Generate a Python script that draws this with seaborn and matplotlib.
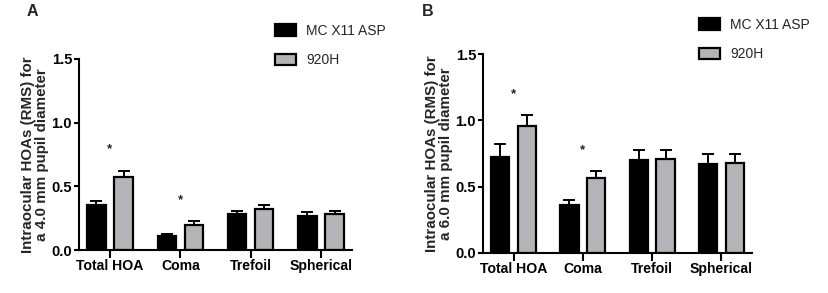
import matplotlib
matplotlib.use("Agg")
import matplotlib.pyplot as plt
import seaborn as sns
import pandas as pd
from matplotlib.patches import Patch

sns.set_theme(style="ticks")
plt.rcParams["font.family"] = ["Liberation Sans", "DejaVu Sans"]

categories = ["Total HOA", "Coma", "Trefoil", "Spherical"]
groups = ["MC X11 ASP", "920H"]

# Panel A: 4.0 mm pupil
a_mc = [0.35, 0.11, 0.28, 0.27]
a_mc_err = [0.035, 0.015, 0.03, 0.03]
a_920 = [0.575, 0.20, 0.32, 0.28]
a_920_err = [0.045, 0.025, 0.03, 0.025]
a_sig = [True, True, False, False]

# Panel B: 6.0 mm pupil
b_mc = [0.72, 0.36, 0.70, 0.67]
b_mc_err = [0.10, 0.04, 0.075, 0.075]
b_920 = [0.96, 0.565, 0.71, 0.68]
b_920_err = [0.08, 0.05, 0.065, 0.065]
b_sig = [True, True, False, False]

yticks = [0.0, 0.5, 1.0, 1.5]

BLACK = "#000000"
GREY = "#b4b4b8"

fig = plt.figure(figsize=(8.29, 2.93), dpi=100)
W, H = 829, 293


def px_axes(l, r, t, b):
    return fig.add_axes([l / W, 1 - b / H, (r - l) / W, (b - t) / H])


def panel(ax, mc, mc_err, g920, g920_err, sig, ylabel, letter, letter_xy, leg_xy, star_off):
    df = pd.DataFrame({
        "category": categories * 2,
        "group": [groups[0]] * 4 + [groups[1]] * 4,
        "value": list(mc) + list(g920),
    })
    sns.barplot(data=df, x="category", y="value", hue="group", order=categories,
                hue_order=groups, palette=[BLACK, GREY], width=0.77, gap=0.32,
                edgecolor="black", linewidth=1.6, errorbar=None, legend=False,
                saturation=1, ax=ax)
    errs = [mc_err, g920_err]
    tops_by_cat = [0] * 4
    for cont, err in zip(ax.containers, errs):
        xs = [p.get_x() + p.get_width() / 2 for p in cont.patches]
        hs = [p.get_height() for p in cont.patches]
        ax.errorbar(xs, hs, yerr=[[0] * len(err), err], fmt="none", ecolor="black",
                    elinewidth=1.4, capsize=4.2, capthick=1.4, zorder=5)
        for i, (h, e) in enumerate(zip(hs, err)):
            tops_by_cat[i] = max(tops_by_cat[i], h + e)
    for i, s in enumerate(sig):
        if s:
            ax.text(i, tops_by_cat[i] + star_off, "*", ha="center", va="center",
                    fontsize=9.5, fontweight="bold", color="#222222")
    ax.set_ylim(0, 1.5)
    ax.set_xlim(-0.44, 3.44)
    ax.set_yticks(yticks)
    ax.set_yticklabels([f"{v:.1f}" for v in yticks], fontsize=10.6, fontweight="bold")
    ax.set_xticks(range(4))
    ax.set_xticklabels(categories, fontsize=10.1, fontweight="bold")
    ax.set_xlabel("")
    ax.set_ylabel(ylabel, fontsize=10.9, fontweight="bold", labelpad=1.5, linespacing=1.05)
    for s in ["top", "right"]:
        ax.spines[s].set_visible(False)
    for s in ["left", "bottom"]:
        ax.spines[s].set_linewidth(1.5)
        ax.spines[s].set_color("black")
    ax.tick_params(axis="y", length=3.5, width=1.5, pad=1.5, colors="black")
    ax.tick_params(axis="x", length=5.5, width=1.5, pad=1.2, colors="black")
    fig.text(letter_xy[0] / W, 1 - letter_xy[1] / H, letter, fontsize=11.5,
             fontweight="bold", ha="left", va="center")
    handles = [Patch(facecolor=BLACK, edgecolor="black", linewidth=1.6, label=groups[0]),
               Patch(facecolor=GREY, edgecolor="black", linewidth=1.6, label=groups[1])]
    fig.legend(handles=handles, loc="upper left",
               bbox_to_anchor=(leg_xy[0] / W, 1 - leg_xy[1] / H),
               frameon=False, fontsize=10, borderpad=0, borderaxespad=0,
               handlelength=1.5, handleheight=0.95, handletextpad=0.75,
               labelspacing=1.1)


axA = px_axes(79, 352, 59, 250)
panel(axA, a_mc, a_mc_err, a_920, a_920_err, a_sig,
      "Intraocular HOAs (RMS) for\na 4.0 mm pupil diameter", "A", (27, 11), (275, 24), 0.17)

axB = px_axes(483, 752, 54, 253)
panel(axB, b_mc, b_mc_err, b_920, b_920_err, b_sig,
      "Intraocular HOAs (RMS) for\na 6.0 mm pupil diameter", "B", (422, 11), (699, 18), 0.16)

fig.savefig("out.png", dpi=100)
